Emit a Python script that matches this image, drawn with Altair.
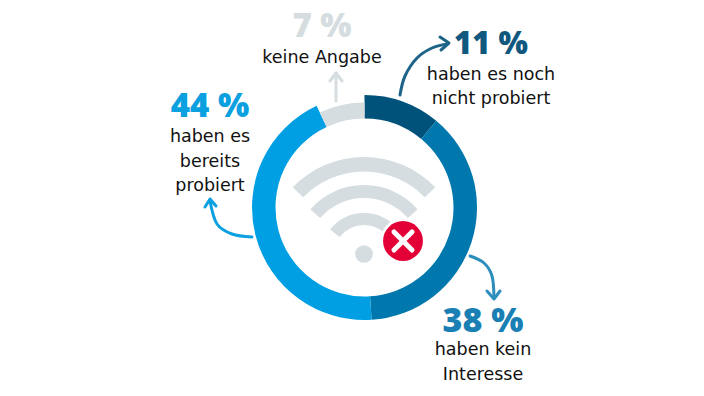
import math
import altair as alt
import pandas as pd

# Donut
shares = [11, 38, 44, 7]
share_colors = ["#00527a", "#0077ad", "#009fe3", "#d5dde0"]
share_outer = [112.5, 112.5, 112.5, 105]
ring_center = [364.5, 207.5]
ring_inner = 89

# Text
big_text = ["11 %", "38 %", "44 %", "7 %"]
big_x = [491, 483, 210, 322]
big_y = [54, 332, 117, 37]
big_size = [31, 34, 33, 33]
big_colors = ["#11587f", "#1a80b4", "#0ba0e0", "#d5dde0"]
small_text = ["haben es noch", "nicht probiert", "haben kein", "Interesse",
              "haben es", "bereits", "probiert", "keine Angabe"]
small_x = [491, 491, 483, 483, 210, 210, 210, 322]
small_y = [80, 104, 355, 380, 142, 167, 191, 63]

# Arrows
arrow_curves = [
    [(400, 95), (405, 76), (417, 58), (432, 48), (447, 44)],
    [(470, 256), (484, 263), (492, 276), (494, 297)],
    [(252, 237), (232, 234), (217, 224), (210, 201)],
    [(336, 101), (336, 73)],
]
arrow_heads = [
    [(440, 37), (449, 43), (441, 50)],
    [(487, 291), (494, 299), (500, 291)],
    [(205, 207), (210, 199), (216, 206)],
    [(330, 81), (336, 73), (342, 81)],
]
arrow_colors = ["#1c6488", "#2c8ebd", "#0ba0e0", "#d5dde0"]

# Wifi icon
wifi_center = [364, 256]
wifi_dot = [364, 254]
wifi_inner = [84.5, 58, 31]
wifi_outer = [99, 71, 43]
wifi_half_angle = [46, 49, 52]
wifi_color = "#d5dde0"
badge_center = [403, 241]
badge_cross = [[(394, 232), (412, 250)], [(412, 232), (394, 250)]]
badge_red = "#e30037"

X = alt.Scale(domain=[8, 696], range=[0, 688])
Y = alt.Scale(domain=[8, 388], range=[0, 380])
DEG = alt.Scale(domain=[0, 360], range=[0, 2 * math.pi])
no_axis = dict(axis=None)


def xy():
    return dict(x=alt.X("x:Q", scale=X, **no_axis), y=alt.Y("y:Q", scale=Y, **no_axis))


layers = []

start = 0
for value, colour, outer in zip(shares, share_colors, share_outer):
    df = pd.DataFrame({"x": [ring_center[0]], "y": [ring_center[1]],
                       "a": [start * 3.6], "b": [(start + value) * 3.6]})
    layers.append(alt.Chart(df).mark_arc(innerRadius=ring_inner, outerRadius=outer, color=colour).encode(
        theta=alt.Theta("a:Q", scale=DEG, stack=None), theta2="b:Q", **xy()))
    start += value

for inner, outer, half in zip(wifi_inner, wifi_outer, wifi_half_angle):
    df = pd.DataFrame({"x": [wifi_center[0]], "y": [wifi_center[1]], "a": [-half], "b": [half]})
    layers.append(alt.Chart(df).mark_arc(innerRadius=inner, outerRadius=outer, color=wifi_color).encode(
        theta=alt.Theta("a:Q", scale=DEG, stack=None), theta2="b:Q", **xy()))


def dot(center, radius, colour):
    df = pd.DataFrame({"x": [center[0]], "y": [center[1]]})
    return alt.Chart(df).mark_circle(size=math.pi * radius ** 2, color=colour, opacity=1).encode(**xy())


layers.append(dot(wifi_dot, 10, wifi_color))
layers.append(dot(badge_center, 25.5, "#ffffff"))
layers.append(dot(badge_center, 22.5, badge_red))


def poly(points, colour, width, interpolate="linear"):
    df = pd.DataFrame({"x": [p[0] for p in points], "y": [p[1] for p in points],
                       "i": list(range(len(points)))})
    return alt.Chart(df).mark_line(color=colour, strokeWidth=width, strokeCap="round",
                                   strokeJoin="round", interpolate=interpolate).encode(
        order="i:Q", **xy())


for seg in badge_cross:
    layers.append(poly(seg, "#ffffff", 5))

for curve, head, colour in zip(arrow_curves, arrow_heads, arrow_colors):
    layers.append(poly(curve, colour, 3, "cardinal"))
    layers.append(poly(head, colour, 3))

for t, x, y, c, s in zip(big_text, big_x, big_y, big_colors, big_size):
    df = pd.DataFrame({"x": [x], "y": [y], "t": [t]})
    layers.append(alt.Chart(df).mark_text(font="Open Sans", fontWeight=800, fontSize=s, color=c,
                                          align="center", baseline="alphabetic").encode(
        text="t:N", **xy()))

df = pd.DataFrame({"x": small_x, "y": small_y, "t": small_text})
layers.append(alt.Chart(df).mark_text(font="DejaVu Sans", fontSize=17.5, color="#111111",
                                      align="center", baseline="alphabetic").encode(
    text="t:N", **xy()))

chart = alt.layer(*layers).properties(
    width=688, height=380, padding=0, background="#ffffff",
    autosize=alt.AutoSizeParams(type="none")
).configure_view(stroke=None)

chart.save("out.html", embed_options={"renderer": "svg", "actions": False})
